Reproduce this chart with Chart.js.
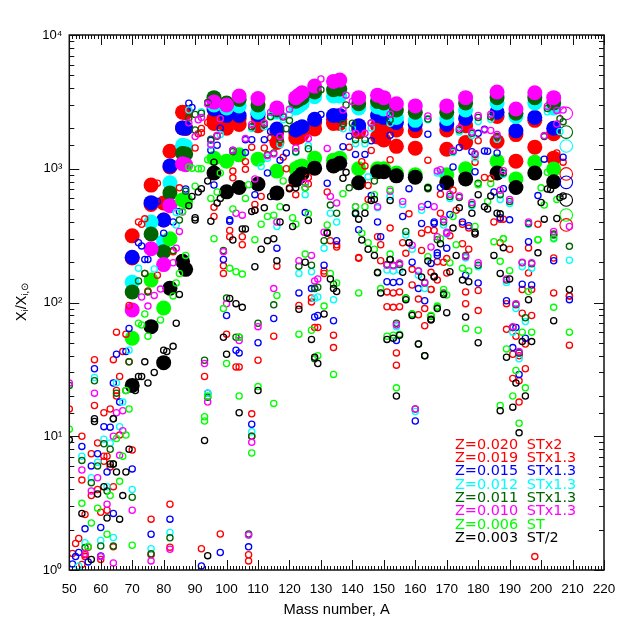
<!DOCTYPE html>
<html><head><meta charset="utf-8">
<style>html,body{margin:0;padding:0;background:#fff}#w{width:638px;height:638px}</style>
<script src="https://cdn.jsdelivr.net/npm/chart.js@4"></script></head>
<body><div id="w"><canvas id="c" width="638" height="638"></canvas></div>
<script>
const legendZ=["Z=0.020","Z=0.019","Z=0.015","Z=0.012","Z=0.011","Z=0.010","Z=0.006","Z=0.003"];
const legendST=["STx2","STx1.3","STx1.3","STx1.3","STx1.3","STx1.3","ST","ST/2"];
const seriesColors=["#ff0000","#ff0000","#0000ff","#00ffff","#006400","#ff00ff","#00ff00","#000000"];
const bigMass=[70,76,80,82,86,87,96,100,104,110,116,122,123,124,128,134,136,142,148,150,154,160,170,176,186,192,198,204];
const big020=[315,755,555,1350,2650,2620,2380,2300,2380,2420,1890,1860,1920,1980,2220,2340,2340,1980,2100,2020,1950,1920,1950,2100,2460,1800,2300,1830];
const big019=[215,540,414,1030,2020,2000,2180,2010,2140,2100,1570,1700,1730,1800,1980,2180,2180,1890,1730,1640,1470,1425,1400,1570,1600,1140,1450,1200];
const big015=[218,558,414,1050,2020,2010,2800,2500,2500,2540,1980,1950,2010,2060,2340,2500,2500,2100,2500,2420,2220,2140,2140,2380,2650,1920,2420,2010];
const big012=[142,400,285,785,1500,1475,3000,2850,2950,2650,2650,2850,2950,3060,3450,3500,3500,2850,2900,2800,2420,2300,2380,2750,3100,2460,3100,2850];
const big011=[120,325,240,660,1300,1290,3400,3100,3300,3000,2750,3200,3300,3400,3750,3900,3950,3060,3180,3100,2750,2650,2650,3100,3400,2600,3400,3100];
const big010=[88,252,192,530,1090,1070,3150,3000,3500,3350,2850,3400,3550,3700,4150,4500,4600,3400,3550,3400,3060,2950,2950,3400,3750,2800,3700,3400];
const big006=[54,147,91,300,585,575,1200,1140,1270,1180,960,1000,1030,1050,1200,1160,1200,1000,1000,1000,930,900,900,1000,1140,840,1120,995];
const big003=[24,66,35.5,128,203,177,930,672,725,770,660,825,865,915,1010,1050,1100,785,950,950,885,865,785,840,930,725,930,800];
const hollowMass=[208];
const hollow020=[914],hollow019=[380],hollow015=[791],hollow012=[1480],hollow011=[1880],hollow010=[2590],hollow006=[451],hollow003=[584];

const small020=[[54,10],[59,8.9],[66,10.2],[61,7.1],[63,5.9],[54,4.7],[57,3.6],[60,2.7],[76,2.4],[53,1.72],[56,1.48],[55,1.26],[54,1.1],[64,1.49],[82,1.48],[98,1.86],[107,1.17],
[58,37.4],[65,60],[68,58],[66,28],[63,16],[65,22],[72,400],[74,165],[78,160],[69,95],[99,188],[101,346],[100,58],[93,28],
[90,1430],[92,2000],[85,720],[74,422],[96,515],[102,960],[97,1770],
[108,1450],[114,1700],[117,1590],[106,1130],[119,1000],[126,770],[132,670],[146,1370],[164,1160],[111,620],[109,490],[143,1130],[145,750],[122,640],
[105,310],[135,270],[116,187],[131,172],[148,310],[142,217],[149,205],[151,120],[155,120],[153,92],[157,233],[162,330],[166,345],[159,177],[161,106],[161,81],[165,125],[123,95],[127,101],[129,65],[134,46],[110,37],[108,14.7],[154,34],
[175,275],[187,280],[167,202],[170,213],[196,256],[167,147],[176,120],[194,125],[204,215],[209,112],[180,87],[194,83],[189,63],[195,49],[193,40],[191,27],[193,18],[171,315],[209,48]];
const small019=[[61,6.5],[62,7.1],[70,7.9],[57,7.4],[59,4],[64,4.2],[62,2.8],[55,2.6],[82,3.1],[52,1.58],[55,1.3],[51,1.33],[60,1.2],[76,1.3],[92,1.44],[107,1.3],[108,10],
[64,37.4],[67,43],[69,36],[58,17],[61,15],[65,20],[73,385],[75,122],[83,240],[50,16],[99,165],[101,310],[103,33],
[91,1830],[92,1860],[94,2220],[78,780],[96,440],[102,855],
[112,1430],[115,1540],[106,990],[118,1220],[126,860],[139,1450],[152,1170],[109,540],[158,460],[144,1050],[120,720],[145,590],
[105,270],[133,290],[135,260],[131,165],[142,214],[149,270],[152,360],[153,118],[151,93],[155,93],[156,280],[164,350],[162,245],[159,135],[163,90],[163,67],[165,168],[127,108],[128,65],[134,57],[115,56],[104,33],[154,42],
[177,250],[190,250],[169,200],[170,166],[196,166],[165,125],[180,123],[197,125],[204,118],[176,98],[189,98],[197,80],[192,56],[191,41],[195,32],[193,26],[209,112],[198,1.26],
[180,1620],[179,1120],[182,860],[184,845],[168,645],[172,690],[173,490],[168,465],[175,385],[177,360],[185,400],[187,420],[188,420],[199,385],[207,1120],[205,1310]];
const small015=[[61,11.8],[63,11.7],[54,8.4],[59,7.4],[57,6],[62,5.4],[70,5.7],[64,2.65],[55,2.03],[60,2.08],[76,1.85],[82,2.4],[53,1.35],[52,1.26],[51,1.11],[56,1.15],[60,1.27],[92,1.07],[98,1.35],[107,1.49],[108,12.3],
[58,32],[65,41],[68,43],[69,64],[64,25],[66,18],[72,280],[73,265],[74,210],[75,210],[80,330],[83,400],[99,210],[100,80],[101,405],[103,44],[94,21],
[88,3090],[89,2870],[95,1375],[96,755],[98,2010],[97,1500],[87,705],[78,570],[85,480],[102,1375],[101,415],[94,3100],[95,1630],
[130,2550],[139,1750],[152,1780],[164,1810],[108,1650],[106,1650],[112,1650],[114,1900],[137,1460],[117,1160],[119,1310],[141,1280],[144,1280],[146,1620],[132,780],[109,640],[113,930],[146,630],[158,710],[156,440],[164,540],[125,470],[106,1320],
[135,290],[116,255],[131,190],[142,350],[149,310],[162,390],[166,400],[167,235],[151,143],[153,141],[155,143],[159,200],[163,103],[161,127],[123,118],[127,127],[128,127],[134,73],[128,78],[129,80],[115,76],[110,50],[104,42],[154,52],[160,13],[148,400],
[196,285],[204,205],[167,225],[170,255],[165,196],[176,160],[180,140],[194,137],[197,135],[189,103],[209,105],[192,65],[191,65],[195,54],[191,46],[193,42],[193,29],
[180,1840],[182,1970],[174,1440],[178,1340],[182,1360],[183,1350],[186,1310],[201,1180],[207,1220],[172,1030],[179,950],[168,725],[185,670],[188,710],[199,630],[171,455],[175,400],[177,375],[187,430],[190,415],[166,390]];
const small012=[[66,11.8],[61,9.5],[63,8.9],[54,7.1],[59,6.4],[57,4.9],[62,4.2],[70,4],[55,1.6],[60,1.66],[64,1.75],[76,1.44],[82,1.91],[53,1.07],[107,1.83],[108,10.8],
[58,27.5],[65,25],[69,44],[67,18],[72,180],[77,178],[84,380],[94,21],
[88,2750],[92,2670],[87,680],[98,1800],[95,1490],[84,470],
[114,2480],[120,2540],[118,2320],[108,2000],[112,2060],[137,1990],[140,1990],[146,2020],[152,2190],[164,2320],[117,1520],[141,1540],[144,1540],[111,1040],[133,465],[125,640],[148,510],[152,620],[162,490],[167,930],[126,1490],[113,1200],[156,540],[141,470],[145,870],[122,1320],
[135,400],[131,255],[116,370],[123,165],[127,170],[128,107],[129,110],[134,105],[151,175],[153,172],[155,175],[161,160],[163,127],[159,250],[157,320],[160,15.3],[154,66],
[204,305],[209,207],[170,325],[176,215],[180,185],[194,185],[197,180],[189,141],[192,90],[195,72],[191,60],[193,38],
[180,2260],[184,2340],[202,2670],[174,1880],[178,1770],[186,1660],[172,1320],[179,1210],[169,380],[190,550],[196,385],[171,600],[206,1900],[188,910],[168,930],[187,590],[178,530]];
const small011=[[61,8.8],[63,8],[54,6.6],[59,6],[57,4.5],[64,6.2],[62,3.9],[70,3.5],[55,1.47],[60,1.51],[64,1.51],[76,1.32],[82,1.74],[107,1.86],[108,10],
[58,26],[65,21],[68,22],[69,36],[72,145],[74,165],[75,120],[83,245],[85,414],[99,245],[100,108],[94,19.6],[50,24],[64,13.5],[103,55],[93,37],
[88,2400],[90,2550],[92,2600],[90,1950],[95,1660],[98,2380],[97,1750],[87,680],[102,1340],[94,3130],
[118,2440],[120,2290],[114,2450],[108,2060],[112,2140],[138,3000],[130,3900],[137,2170],[140,2190],[146,2200],[152,2320],[164,2350],[126,1410],[117,1650],[141,1650],[144,1650],[119,1990],[113,1270],[115,1310],[122,1340],[133,535],[135,465],[125,720],[139,720],[147,810],[164,710],[141,460],
[132,335],[131,290],[123,187],[127,190],[129,130],[128,128],[134,137],[115,96],[110,70],[104,55],[148,168],[157,340],[152,210],[151,192],[153,190],[155,192],[161,172],[163,140],[157,108],[159,82],[165,79],[158,280],[154,70],[161,49],[163,40],[160,16],[128,38],
[204,325],[209,263],[167,295],[176,225],[180,190],[194,198],[197,195],[189,147],[192,96],[195,77],[191,65],[193,42],[169,118],
[180,2420],[184,2450],[202,2820],[206,2370],[207,2250],[174,1950],[178,1840],[186,1740],[201,1740],[172,1350],[179,1280],[188,930],[171,620],[174,610],[178,540],[190,570],[196,390],[204,320],[187,640],[169,400],[180,780]];
const small010=[[67,11],[64,10],[66,7.2],[54,5.6],[59,4.9],[57,3.9],[62,3.1],[70,2.8],[55,1.33],[60,1.26],[64,1.13],[76,1.17],[82,1.43],[107,1.83],[108,9],
[50,25],[58,21],[65,15],[67,15.5],[73,110],[75,94],[77,113],[79,126],[83,198],[84,255],[99,240],[100,98],[94,18],[93,35],[85,340],
[88,2210],[90,1740],[91,2320],[92,2420],[95,1520],[97,1770],[98,2370],[86,475],[103,465],[102,1370],[94,3050],
[130,4690],[138,3550],[137,2750],[140,3180],[114,2650],[120,2780],[108,2140],[112,2200],[118,2480],[146,2200],[152,2560],[164,2480],[126,1680],[132,1420],[106,1680],[117,1740],[141,1840],[144,1840],[113,1250],[115,1290],[122,1430],[133,620],[135,555],[141,520],[125,780],[148,520],[152,680],[156,570],[162,520],[105,450],[167,960],[109,840],[166,520],
[116,400],[131,335],[127,225],[123,205],[128,145],[129,150],[115,127],[110,66],[104,52],[151,190],[153,188],[155,197],[161,172],[163,142],[159,268],[165,260],[154,68],[160,16],
[204,340],[170,335],[167,310],[176,220],[180,198],[194,200],[197,198],[189,150],[192,98],[191,66],[193,43],[209,370],
[180,2500],[184,2560],[202,2930],[205,2730],[207,2750],[174,2010],[178,1880],[182,1950],[184,1930],[186,1800],[201,1770],[205,2160],[168,985],[172,1370],[179,1300],[188,965],[171,645],[174,625],[178,560],[187,690],[190,590],[169,415],[170,330],[196,400]];
const small006=[[50,11.3],[68,10.2],[65,9.6],[67,7.1],[66,4.6],[54,3.15],[59,2.9],[63,3.6],[57,2.25],[62,1.85],[70,1.53],[56,1.5],[108,7.5],[93,13],
[72,70],[73,68],[69,16],[74,82],[75,56],[79,74],[83,112],[84,140],[87,225],[85,165],[96,300],[99,90],[101,180],[103,170],[100,35],[104,55],[93,14],[94,20],[104,20],[68,22],
[88,1030],[89,1010],[91,1000],[92,1000],[90,740],[94,1170],[95,600],[98,930],[102,500],[97,670],[86,480],
[106,600],[107,760],[117,520],[118,810],[115,450],[113,440],[121,430],[126,460],[137,650],[141,520],[144,520],[147,640],[152,700],[164,730],[125,720],
[111,385],[122,385],[132,380],[109,295],[105,163],[125,230],[133,165],[135,140],[116,113],[131,94],[123,58],[127,62],[142,118],[143,330],[145,280],[147,250],[152,230],[149,127],[151,56],[153,57],[155,58],[157,108],[159,82],[165,80],[167,94],[164,220],[129,40],[134,29],[110,23.5],[115,17.6],[154,23],
[185,285],[188,300],[199,295],[173,270],[171,198],[187,203],[190,173],[175,180],[177,172],[196,121],[169,125],[170,114],[167,92],[165,80],[204,92],[176,64],[180,62],[194,60],[197,60],[209,60],[189,45],[192,31],[195,23],[191,20],[187,17],[193,12.5],
[180,760],[184,775],[183,570],[172,440],[179,370],[200,720],[202,940],[205,590],[201,535],[188,300],[199,295],[168,300],[204,300]];
const small003=[[50,9.4],[57,1.2],[69,8],[63,6.2],[64,6.2],[65,5.4],[68,5.4],[61,4.2],[59,3.7],[67,3.6],[54,2.65],[62,2.45],[66,2.4],[94,1.28],[93,9.3],[58,12.9],
[71,22],[72,28],[73,28],[75,25],[74,36],[77,30],[80,44],[81,43],[83,47],[84,70],[85,115],[90,414],[95,405],[102,293],[101,107],[103,98],[99,55],[100,41],[104,15],[58,13.5],[64,13.5],
[96,1120],[94,810],[92,710],[91,670],[89,620],[88,530],[90,430],[97,555],[98,600],
[138,940],[137,850],[125,920],[120,710],[122,720],[114,620],[115,625],[119,510],[112,510],[108,480],[109,490],[141,465],[144,465],[146,580],[147,590],[152,580],[164,720],[142,420],
[106,355],[105,355],[117,400],[121,370],[126,410],[132,330],[113,290],[115,300],[111,250],[116,205],[109,185],[125,200],[105,92],[123,89],[133,150],[134,127],[135,121],[131,82],[127,53],[128,39],[129,35],[110,22],[143,293],[145,250],[147,225],[152,210],[148,167],[149,118],[151,53],[153,54],[155,57],[154,20],[156,168],[157,105],[159,80],[158,280],[161,49],[163,40],[162,155],[164,204],[165,74],[166,155],
[179,335],[173,225],[185,225],[188,257],[199,235],[171,170],[187,165],[190,150],[175,147],[177,143],[168,275],[166,157],[196,105],[169,115],[167,90],[170,84],[165,75],[204,73],[176,78],[180,50],[194,51],[197,51],[189,39],[192,25],[195,20],[191,16.5],[187,15.5],[209,125],[193,10.6],
[180,640],[184,625],[182,520],[183,500],[186,465],[187,460],[174,510],[178,465],[172,360],[179,325],[200,560],[202,705],[203,700],[206,610],[207,625],[201,420],[205,425]];

const bigSeries=[big020,big019,big015,big012,big011,big010,big006,big003];
const hollowSeries=[hollow020,hollow019,hollow015,hollow012,hollow011,hollow010,hollow006,hollow003];
const smallSeries=[small020,small019,small015,small012,small011,small010,small006,small003];
const datasets=[];
bigSeries.forEach((vals,i)=>datasets.push({label:legendZ[i]+" s-only",data:vals.map((v,k)=>({x:bigMass[k],y:v})),
  pointRadius:7.5,pointHoverRadius:7.5,pointBorderWidth:0,pointBackgroundColor:seriesColors[i],showLine:false,order:100-i}));
hollowSeries.forEach((vals,i)=>datasets.push({label:legendZ[i]+" Pb",data:vals.map((v,k)=>({x:hollowMass[k],y:v})),
  pointRadius:6.3,pointBorderWidth:1.1,pointBackgroundColor:"transparent",pointBorderColor:seriesColors[i],showLine:false,order:50-i}));
smallSeries.forEach((vals,i)=>datasets.push({label:legendZ[i],data:vals.map(p=>({x:p[0],y:p[1]})),
  pointRadius:3.1,pointBorderWidth:1.3,pointBackgroundColor:"transparent",pointBorderColor:seriesColors[i],showLine:false,order:40-i}));

const frame={id:"frame",afterDraw(ch){
  const c=ch.ctx,a=ch.chartArea,xs=ch.scales.x,ys=ch.scales.y;
  c.save();c.strokeStyle="#111";c.lineWidth=1;c.beginPath();
  xs.ticks.forEach(t=>{const p=Math.round(xs.getPixelForValue(t.value))+.5,l=t.value%10===0?10:4;
    c.moveTo(p,a.bottom);c.lineTo(p,a.bottom-l);c.moveTo(p,a.top);c.lineTo(p,a.top+l);});
  ys.ticks.forEach(t=>{const lg=Math.log10(t.value),maj=Math.abs(lg-Math.round(lg))<1e-6,l=maj?10:5;
    const p=Math.round(ys.getPixelForValue(t.value))+.5;
    c.moveTo(a.left,p);c.lineTo(a.left+l,p);c.moveTo(a.right,p);c.lineTo(a.right-l,p);});
  c.stroke();c.lineWidth=1.5;c.strokeRect(a.left,a.top,a.right-a.left,a.bottom-a.top);
  c.textBaseline="middle";c.textAlign="left";c.font='14.4px "DejaVu Sans"';
  const lx=a.left+385.7,lsx=a.left+457.5;
  legendZ.forEach((z,i)=>{const ly=445+i*13.35;c.fillStyle=seriesColors[i];c.fillText(z,lx,ly);c.fillText(legendST[i],lsx,ly);});
  c.fillStyle="#000";c.translate(22,302);c.rotate(-Math.PI/2);
  const parts=[["X",0],["i",3.5],["/X",0],["i,⊙",3.5]];
  const small='9.5px "Liberation Sans"',norm='14.5px "Liberation Sans"';
  let tot=0;parts.forEach(p=>{c.font=p[1]?small:norm;tot+=c.measureText(p[0]).width;});
  let tx=-tot/2;parts.forEach(p=>{c.font=p[1]?small:norm;c.fillText(p[0],tx,p[1]);tx+=c.measureText(p[0]).width;});
  c.restore();
}};

new Chart(document.getElementById("c"),{type:"scatter",data:{datasets},plugins:[frame],options:{
  responsive:false,animation:false,events:[],
  layout:{padding:{top:35,right:34,left:0,bottom:0}},
  plugins:{legend:{display:false},tooltip:{enabled:false}},
  scales:{
    x:{type:"linear",min:50,max:220,afterFit(s){s.height=68;},
      grid:{display:false,drawTicks:false},border:{display:false},
      title:{display:true,text:"Mass number, A",color:"#000",font:{family:"Liberation Sans",size:14.7},padding:{top:0,bottom:19}},
      ticks:{stepSize:1,autoSkip:false,maxRotation:0,minRotation:0,padding:11,color:"#000",font:{family:"Liberation Sans",size:13.5},
        callback:v=>v%10===0?String(v):""}},
    y:{type:"logarithmic",min:1,max:10000,afterFit(s){s.width=69.3;},
      grid:{display:false,drawTicks:false},border:{display:false},
      ticks:{autoSkip:false,padding:7,color:"#000",font:{family:"Liberation Sans",size:13},
        callback:v=>({1:"10⁰",10:"10¹",100:"10²",1000:"10³",10000:"10⁴"})[v]||""}}
  }
}});
</script></body></html>
